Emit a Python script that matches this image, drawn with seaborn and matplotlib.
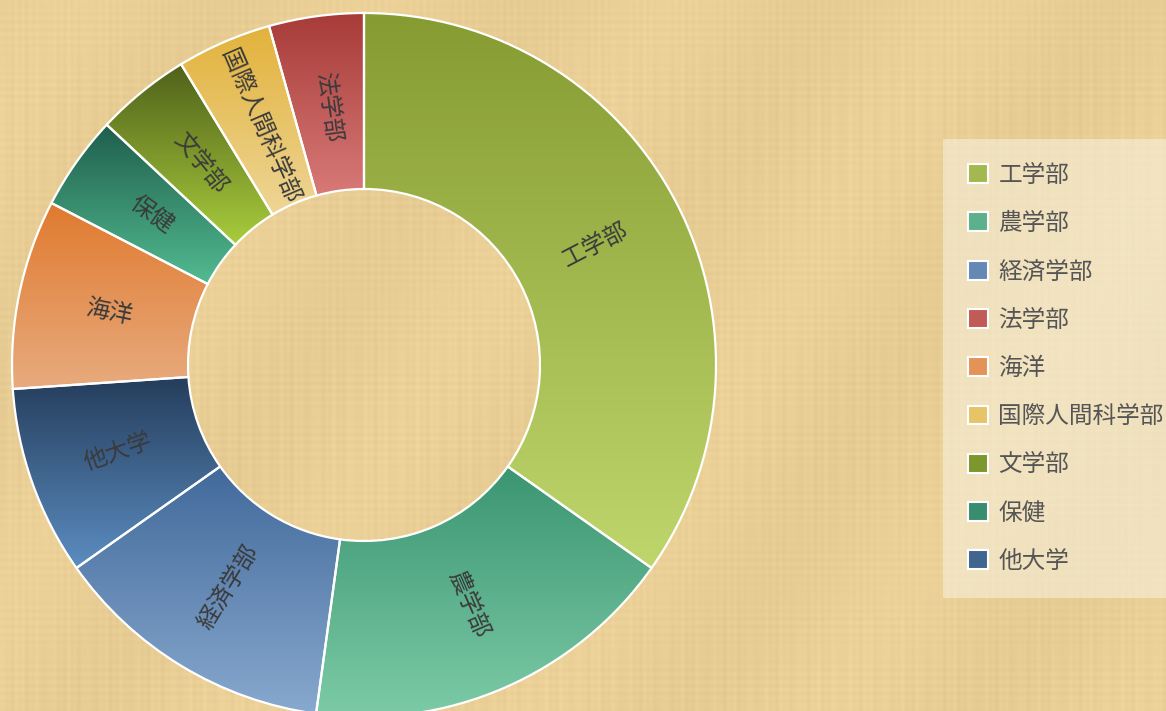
import numpy as np
import matplotlib.pyplot as plt
from matplotlib.patches import Patch
import seaborn as sns

# data (legend order)
categories = ["工学部", "農学部", "経済学部", "法学部", "海洋", "国際人間科学部", "文学部", "保健", "他大学"]
counts = [8, 4, 3, 1, 2, 1, 1, 1, 2]
# order of slices round the ring, clockwise from 12 o'clock
pie_order = ["工学部", "農学部", "経済学部", "他大学", "海洋", "保健", "文学部", "国際人間科学部", "法学部"]

# gradient colours per category (top -> bottom)
top_colors = ["#869c32", "#3b9571", "#41699a", "#a73b38", "#e07a2f", "#e2b23b", "#4f611a", "#1f5e4c", "#253d5c"]
bottom_colors = ["#bfd66c", "#7ccba6", "#88a9cf", "#d87a78", "#e8ab7e", "#eed696", "#a9cd3c", "#52bb91", "#5b8dc0"]

sns.set_theme(style="white")
plt.rcParams["font.family"] = ["Noto Sans CJK JP", "DejaVu Sans"]

W, H = 1166, 711
fig = plt.figure(figsize=(W / 100, H / 100), dpi=100)

# parchment-like background
bg = fig.add_axes([0, 0, 1, 1], zorder=-1)
yy, xx = np.mgrid[0:H, 0:W]
weave = (0.25 * np.sin(xx * 0.9) * np.sin(xx * 0.071) + 0.25 * np.sin(yy * 0.8) * np.sin(yy * 0.053)
         + 0.3 * np.sin(xx * 0.021 + yy * 0.013) + 0.2 * np.sin(xx * 0.37 + 1.0) * np.sin(yy * 0.011))
base = np.array([233, 207, 150]) / 255
tex = np.clip(base[None, None, :] + 0.035 * weave[..., None], 0, 1)
bg.imshow(tex, aspect="auto", interpolation="bilinear")
bg.axis("off")

ax = fig.add_axes([12 / W, -6 / H, 704 / W, 704 / H])
ax.patch.set_alpha(0)

vals = [counts[categories.index(c)] for c in pie_order]
wedges, _ = ax.pie(vals, startangle=90, counterclock=False, radius=1,
                   wedgeprops=dict(width=0.5, edgecolor="white", linewidth=1.6, facecolor="none"))

for w, name in zip(wedges, pie_order):
    i = categories.index(name)
    bb = w.get_path().get_extents()
    grad = np.array(sns.blend_palette([top_colors[i], bottom_colors[i]], 256))[:, :3].reshape(256, 1, 3)
    im = ax.imshow(grad, extent=[bb.x0, bb.x1, bb.y0, bb.y1], origin="upper",
                   aspect="auto", zorder=0.5, interpolation="bilinear")
    im.set_clip_path(w)

    mid = (w.theta1 + w.theta2) / 2
    r = 0.74
    x, y = r * np.cos(np.radians(mid)), r * np.sin(np.radians(mid))
    rot = (mid + 90) % 180 - 90
    ax.text(x, y, name, rotation=rot, rotation_mode="anchor", ha="center", va="center",
            fontsize=17, color="#3a3a3a", zorder=3)

ax.set_xlim(-1, 1)
ax.set_ylim(-1, 1)
ax.set_aspect("equal")
ax.axis("off")

mid_colors = [sns.blend_palette([t, b], 3)[1] for t, b in zip(top_colors, bottom_colors)]
handles = [Patch(facecolor=c, edgecolor="white", linewidth=1.5) for c in mid_colors]
leg = fig.legend(handles, categories, loc="upper left", bbox_to_anchor=(943 / W, 1 - 139 / H),
                 frameon=True, fontsize=17, handlelength=0.85, handleheight=0.85, handletextpad=0.45,
                 labelspacing=1.07, borderpad=1.05, borderaxespad=0, labelcolor="#555555")
frame = leg.get_frame()
frame.set_boxstyle("square", pad=0)
frame.set_facecolor("#f8f0dc")
frame.set_alpha(0.6)
frame.set_edgecolor("none")

fig.savefig("out.png", dpi=100)
